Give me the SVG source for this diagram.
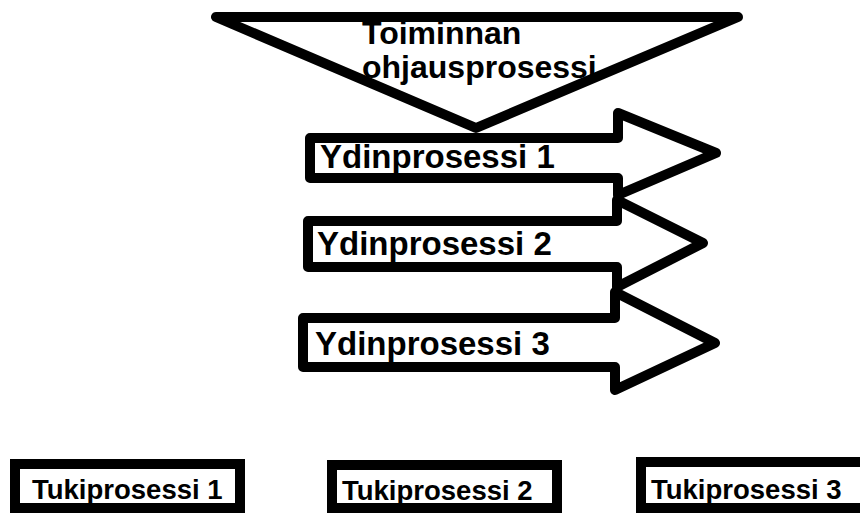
<svg xmlns="http://www.w3.org/2000/svg" width="860" height="513" viewBox="0 0 860 513">
  <style>
    .shape { fill: #ffffff; stroke: #000000; stroke-width: 10; stroke-linejoin: round; }
    .box { fill: #ffffff; stroke: #000000; stroke-width: 10; stroke-linejoin: miter; }
    .lbl { font-family: "Liberation Sans", Arial, sans-serif; font-weight: bold; fill: #000000; }
    .big { font-size: 33px; }
    .title { font-size: 32px; }
    .small { font-size: 27.5px; }
  </style>
  <rect width="860" height="513" fill="#ffffff"/>

  <!-- management process: inverted triangle -->
  <g id="ohjausprosessi">
    <polygon class="shape" points="216,17 738,17 476,128"/>
  </g>

  <!-- core process arrows -->
  <g id="ydinprosessi-1">
    <polygon class="shape" points="310,138 618,138 618,113 716,153 618,195 618,178 310,178"/>
    <text class="lbl big" x="320" y="168">Ydinprosessi 1</text>
  </g>
  <g id="ydinprosessi-2">
    <polygon class="shape" points="308,221 617,221 617,200 703,243 617,287 617,267 308,267"/>
    <text class="lbl big" x="317" y="255">Ydinprosessi 2</text>
  </g>
  <g id="ydinprosessi-3">
    <polygon class="shape" points="303,318 615,318 615,292 715,343 615,390 615,367 303,367"/>
    <text class="lbl big" x="315" y="355">Ydinprosessi 3</text>
  </g>

  <!-- triangle label, two lines -->
  <g id="ohjausprosessi-label">
    <text class="lbl title" x="362" y="44">Toiminnan</text>
    <text class="lbl title" x="362" y="78">ohjausprosessi</text>
  </g>

  <!-- support processes -->
  <g id="tukiprosessi-1">
    <rect class="box" x="15" y="464" width="225" height="44"/>
    <text class="lbl small" x="32" y="499">Tukiprosessi 1</text>
  </g>
  <g id="tukiprosessi-2">
    <rect class="box" x="332" y="465" width="225" height="43"/>
    <text class="lbl small" x="342" y="500">Tukiprosessi 2</text>
  </g>
  <g id="tukiprosessi-3">
    <rect class="box" x="641" y="462" width="225" height="46"/>
    <text class="lbl small" x="651" y="499">Tukiprosessi 3</text>
  </g>

  <g id="connectors"></g>
</svg>
